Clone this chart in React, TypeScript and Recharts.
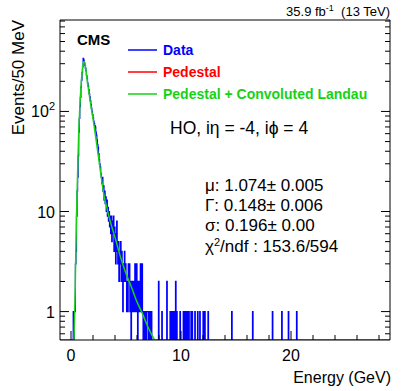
import React from 'react';
import { ComposedChart, Line, XAxis, YAxis } from 'recharts';

const FONT = '"Liberation Sans", Arial, Helvetica, sans-serif';

const X_MIN = -1;
const X_MAX = 29;
const BIN = 0.05;
const Y_MIN = 0.52;
const Y_MAX = 820;

// Histogram counts per 50 MeV bin, starting at 0.20 GeV (bin low edges 0.20, 0.25, ...)
const denseStart = 0.2;
const denseCounts = [
  1, 0, 1, 1, 3, 4, 9, 16, 22, 36,
  62, 85, 112, 138, 175, 205, 245, 280, 340, 325,
  305, 290, 270, 255, 228, 215, 192, 180, 165, 150,
  140, 128, 118, 108, 100, 93, 86, 80, 76, 72,
  70, 62, 58, 52, 47, 44, 38, 33, 30, 28,
  24, 22, 19, 22, 16, 18, 13, 16, 12, 14,
  10, 13, 9, 11, 8, 10, 7, 9, 6, 9,
  5, 8, 6, 9, 4, 7, 5, 3, 6, 8,
  4, 3, 5, 2, 4, 3, 5, 2, 4, 3,
  1, 3, 2, 4, 2, 3,
  2, 1, 2, 1, 3, 2, 3, 1, 2, 0,
  2, 1, 2, 1, 2, 1, 3, 2, 1, 3,
  1, 0, 2, 1, 2, 1, 3, 1, 1, 3,
  1, 0, 1, 1, 0, 1, 1, 0, 1, 1,
  1, 0, 1, 1, 0, 1, 1, 0, 0, 0,
  0, 0, 0, 0, 0, 0, 0, 0, 0, 2,
];

// Isolated high-energy bins (bin low edge in GeV) and their counts
const tailEnergy = [8.25, 8.7, 9.0, 9.1, 9.25, 9.35, 9.5, 9.6, 9.9, 10.2, 10.35, 10.45, 10.55, 10.7, 10.9, 11.0, 11.25, 11.5, 11.7, 12.0, 12.15, 12.45, 14.6, 16.5, 18.3, 19.15, 19.75, 20.5];
const tailCounts = [1, 2, 1, 1, 1, 1, 2, 1, 1, 1, 1, 1, 1, 1, 1, 1, 1, 1, 1, 1, 1, 1, 1, 1, 1, 1, 1, 1];

// Fit: pedestal + convoluted Landau
const fitEnergy = [0.27, 0.3, 0.35, 0.4, 0.45, 0.5, 0.55, 0.6, 0.7, 0.8, 0.9, 1.0, 1.1, 1.15, 1.2, 1.3, 1.5, 1.75, 2.0, 2.25, 2.5, 2.75, 3.0, 3.25, 3.5, 3.75, 4.0, 4.25, 4.5, 5.0, 5.5, 6.0, 6.5, 7.0, 7.6];
const fitValue = [0.52, 0.7, 1.1, 2.2, 4.5, 9, 15, 24, 60, 110, 170, 240, 295, 312, 315, 290, 195, 125, 85, 55, 35, 22, 14.5, 11, 8.5, 6.8, 5.5, 4.4, 3.5, 2.4, 1.75, 1.25, 0.95, 0.7, 0.52];

const xTicks = [0, 2, 4, 6, 8, 10, 12, 14, 16, 18, 20, 22, 24, 26, 28];
const yTicks = [0.6, 0.7, 0.8, 0.9, 1, 2, 3, 4, 5, 6, 7, 8, 9, 10, 20, 30, 40, 50, 60, 70, 80, 90, 100, 200, 300, 400, 500, 600, 700, 800];
const yMajor = [1, 10, 100];

const nBins = Math.round((X_MAX - X_MIN) / BIN);
const countsByBin = new Map<number, number>();
denseCounts.forEach((c, i) => {
  const idx = Math.round((denseStart - X_MIN) / BIN) + i;
  countsByBin.set(idx, c);
});
tailEnergy.forEach((e, i) => {
  const idx = Math.round((e - X_MIN) / BIN);
  countsByBin.set(idx, tailCounts[i]);
});
const histData: { x: number; y: number }[] = [];
for (let i = 0; i <= nBins; i++) {
  const c = i < nBins ? countsByBin.get(i) ?? 0 : countsByBin.get(nBins - 1) ?? 0;
  histData.push({ x: +(X_MIN + i * BIN).toFixed(3), y: c > 0 ? c : Y_MIN });
}
const fitData = fitEnergy.map((e, i) => ({ x: e, y: fitValue[i] }));

const BottomTick = (props: any) => {
  const { x, y, payload } = props;
  const v = payload.value;
  const major = v % 10 === 0;
  return (
    <g>
      <line x1={x} y1={y} x2={x} y2={y - (major ? 9 : 5)} stroke="#000" strokeWidth={1} />
      {major && (
        <text x={x} y={y + 21} textAnchor="middle" fontSize={16} fontFamily={FONT} fill="#000">
          {v}
        </text>
      )}
    </g>
  );
};

const TopTick = (props: any) => {
  const { x, y, payload } = props;
  const major = payload.value % 10 === 0;
  return <line x1={x} y1={y} x2={x} y2={y + (major ? 9 : 5)} stroke="#000" strokeWidth={1} />;
};

const LeftTick = (props: any) => {
  const { x, y, payload } = props;
  const v = payload.value;
  const major = yMajor.includes(v);
  return (
    <g>
      <line x1={x} y1={y} x2={x + (major ? 9 : 5)} y2={y} stroke="#000" strokeWidth={1} />
      {major && (
        <text x={x - 5} y={y + 6} textAnchor="end" fontSize={16} fontFamily={FONT} fill="#000">
          {v === 100 ? (
            <>
              10<tspan fontSize={11} dy={-7}>2</tspan>
            </>
          ) : (
            String(v)
          )}
        </text>
      )}
    </g>
  );
};

const RightTick = (props: any) => {
  const { x, y, payload } = props;
  const major = yMajor.includes(payload.value);
  return <line x1={x} y1={y} x2={x - (major ? 9 : 5)} y2={y} stroke="#000" strokeWidth={1} />;
};

const legendItems = [
  { label: 'Data', color: '#0000ff', y: 50 },
  { label: 'Pedestal', color: '#ff0000', y: 72 },
  { label: 'Pedestal + Convoluted Landau', color: '#17d117', y: 94 },
];

const stats = ['μ: 1.074± 0.005', 'Γ: 0.148± 0.006', 'σ: 0.196± 0.00'];

export default function App() {
  return (
    <div style={{ position: 'absolute', left: 0, top: 0, width: 407, height: 391, background: '#fff' }}>
      <ComposedChart width={407} height={391} margin={{ top: 19, right: 16, bottom: 50, left: 59 }}>
        <XAxis
          xAxisId="b"
          type="number"
          dataKey="x"
          domain={[X_MIN, X_MAX]}
          allowDataOverflow
          ticks={xTicks}
          interval={0}
          height={1}
          tickSize={0}
          tickMargin={0}
          tickLine={false}
          axisLine={{ stroke: '#000' }}
          tick={<BottomTick />}
        />
        <XAxis
          xAxisId="t"
          orientation="top"
          type="number"
          domain={[X_MIN, X_MAX]}
          allowDataOverflow
          ticks={xTicks}
          interval={0}
          height={1}
          tickSize={0}
          tickMargin={0}
          tickLine={false}
          axisLine={{ stroke: '#000' }}
          tick={<TopTick />}
        />
        <YAxis
          yAxisId="l"
          type="number"
          scale="log"
          domain={[Y_MIN, Y_MAX]}
          allowDataOverflow
          ticks={yTicks}
          interval={0}
          width={1}
          tickSize={0}
          tickMargin={0}
          tickLine={false}
          axisLine={{ stroke: '#000' }}
          tick={<LeftTick />}
        />
        <YAxis
          yAxisId="r"
          orientation="right"
          type="number"
          scale="log"
          domain={[Y_MIN, Y_MAX]}
          allowDataOverflow
          ticks={yTicks}
          interval={0}
          width={1}
          tickSize={0}
          tickMargin={0}
          tickLine={false}
          axisLine={{ stroke: '#000' }}
          tick={<RightTick />}
        />
        <Line
          xAxisId="b"
          yAxisId="l"
          data={histData}
          dataKey="y"
          type="stepAfter"
          stroke="#0000ff"
          strokeWidth={1.2}
          dot={false}
          activeDot={false}
          isAnimationActive={false}
        />
        <Line
          xAxisId="b"
          yAxisId="l"
          data={fitData}
          dataKey="y"
          type="monotone"
          stroke="#17d117"
          strokeWidth={1.5}
          dot={false}
          activeDot={false}
          isAnimationActive={false}
        />
      </ComposedChart>
      <svg
        width={407}
        height={391}
        style={{ position: 'absolute', left: 0, top: 0, pointerEvents: 'none' }}
        fontFamily={FONT}
      >
        <text x={390} y={16} textAnchor="end" fontSize={13} fill="#000">
          35.9 fb<tspan fontSize={9} dy={-5}>-1</tspan>
          <tspan dy={5}>{'\u00a0 (13 TeV)'}</tspan>
        </text>
        <text x={77} y={45} fontSize={15} fontWeight="bold" fill="#000">
          CMS
        </text>
        {legendItems.map((it) => (
          <g key={it.label}>
            <line x1={128} x2={157} y1={it.y} y2={it.y} stroke={it.color} strokeWidth={1.5} />
            <text x={163} y={it.y + 5} fontSize={14} fontWeight="bold" fill={it.color}>
              {it.label}
            </text>
          </g>
        ))}
        <text x={170} y={134} fontSize={17.5} fill="#000">
          HO, iη = -4, iϕ = 4
        </text>
        {stats.map((s, i) => (
          <text key={s} x={205} y={191 + i * 20} fontSize={17} fill="#000">
            {s}
          </text>
        ))}
        <text x={205} y={252} fontSize={17} fill="#000">
          χ<tspan fontSize={11} dy={-6}>2</tspan>
          <tspan dy={6}>/ndf : 153.6/594</tspan>
        </text>
        <text
          transform="translate(24,20) rotate(-90)"
          textAnchor="end"
          fontSize={17}
          fill="#000"
        >
          Events/50 MeV
        </text>
        <text x={391} y={383} textAnchor="end" fontSize={16} fill="#000">
          Energy (GeV)
        </text>
      </svg>
    </div>
  );
}
